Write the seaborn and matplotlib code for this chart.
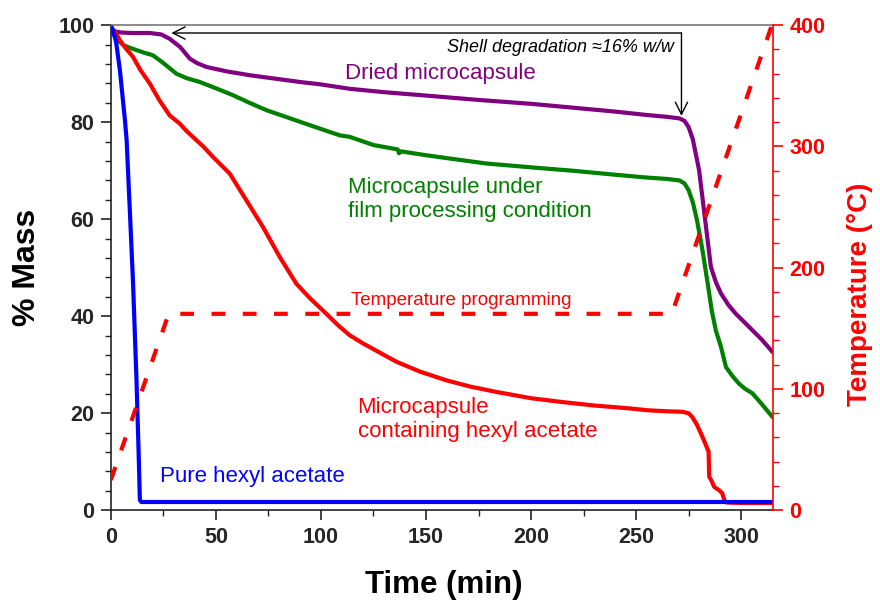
import numpy as np
import pandas as pd
import seaborn as sns
import matplotlib.pyplot as plt
from matplotlib.ticker import MultipleLocator

# ---------------- data ----------------
t_dried = [0, 1, 5, 10, 18.5, 24, 28, 33, 37.6, 41, 45.5, 55, 66, 78, 90, 100, 113.6,
           130, 150, 175, 200, 220, 240, 255, 265, 270.6, 273, 275, 277, 280, 282.5,
           285.6, 288, 290.4, 294, 297.5, 303.8, 310, 315]
m_dried = [99.5, 98.8, 98.5, 98.4, 98.4, 98.1, 97.2, 95.5, 93.1, 92.2, 91.4, 90.5, 89.7,
           89.0, 88.3, 87.8, 86.9, 86.2, 85.5, 84.6, 83.8, 83.0, 82.2, 81.5, 81.1, 80.8,
           80.3, 79.0, 76.5, 70.1, 61.2, 50.2, 47.0, 44.7, 42.3, 40.5, 37.8, 35.1, 32.6]

t_film = [0, 2, 5.9, 10, 15.4, 20, 25, 31.2, 36, 42.3, 50, 58, 66, 74, 82, 90, 99.4,
          109, 113.6, 125, 136.5, 137.2, 138, 150, 165, 178.6, 200, 220, 242, 255, 265,
          270.6, 273, 275, 277, 279, 281.6, 284, 286, 288, 290.4, 292.8, 296, 299, 302,
          305.4, 310, 315]
m_film = [99.5, 97.5, 95.9, 95.2, 94.4, 93.8, 92.2, 90.0, 89.1, 88.3, 87.0, 85.6, 84.0,
          82.5, 81.3, 80.1, 78.7, 77.3, 77.0, 75.3, 74.4, 73.6, 74.0, 73.2, 72.3, 71.5,
          70.7, 70.0, 69.1, 68.6, 68.3, 68.0, 67.4, 66.0, 63.5, 59.8, 53.6, 47.0, 41.2,
          37.0, 33.7, 29.5, 27.6, 26.1, 25.0, 24.1, 21.8, 19.2]

t_caps = [0, 2, 4.3, 7, 10.5, 14, 18.5, 23, 28, 32.8, 36, 40.7, 44, 48.7, 56.6, 64.5,
          72.4, 80.4, 88.3, 95, 102.6, 108, 113.6, 120, 128, 136, 147, 159.6, 171,
          183.4, 200, 215, 230, 246.8, 256, 265, 272, 275, 276.8, 279, 280.9, 282.5,
          284, 284.5, 284.8, 286, 287.2, 289.6, 291, 292, 293, 300, 315]
m_caps = [99.5, 98.6, 96.9, 95.3, 93.5, 90.8, 88.0, 84.6, 81.4, 79.7, 78.2, 76.3, 75.0,
          72.8, 69.4, 63.9, 58.4, 52.2, 46.7, 43.6, 40.5, 38.2, 36.1, 34.4, 32.5, 30.6,
          28.6, 26.8, 25.5, 24.4, 23.1, 22.3, 21.6, 21.0, 20.6, 20.4, 20.3, 20.0, 19.2,
          17.6, 15.8, 14.2, 12.6, 12.2, 6.9, 6.0, 4.8, 4.1, 3.5, 2.1, 1.6, 1.5, 1.5]

t_pure = [0, 1, 2.5, 4.3, 6.7, 7.5, 9, 10.5, 12.2, 13.2, 13.8, 14.5, 50, 100, 200, 315]
m_pure = [100, 99.0, 96.5, 90.7, 80.4, 76.3, 62.0, 47.4, 26.8, 12.0, 2.1, 1.7, 1.7, 1.7,
          1.7, 1.7]

t_temp = [0, 27.5, 267, 315]
temp_c = [25, 162, 162, 402]

x_ticks = [0, 50, 100, 150, 200, 250, 300]
y_ticks = [0, 20, 40, 60, 80, 100]
t_ticks = [0, 100, 200, 300, 400]

# ---------------- style ----------------
sns.set_style("white")
plt.rcParams['font.family'] = ['Liberation Sans', 'DejaVu Sans']

PURPLE = '#800080'
GREEN = '#008000'
RED = '#ff0000'
BLUE = '#0000ff'
DARK = '#222222'

fig, ax = plt.subplots(figsize=(8.8, 6.01), dpi=100)
fig.subplots_adjust(left=0.126, right=0.878, bottom=0.151, top=0.958)

lw = 3.0
for tx, my, col in [(t_dried, m_dried, PURPLE), (t_film, m_film, GREEN),
                    (t_caps, m_caps, RED), (t_pure, m_pure, BLUE)]:
    df = pd.DataFrame({'t': tx, 'm': my})
    sns.lineplot(data=df, x='t', y='m', ax=ax, color=col, lw=lw,
                 estimator=None, sort=False)

ax.set_xlim(0, 315)
ax.set_ylim(0, 100)

ax2 = ax.twinx()
dft = pd.DataFrame({'t': t_temp, 'T': temp_c})
sns.lineplot(data=dft, x='t', y='T', ax=ax2, color=RED, lw=3.0,
             estimator=None, sort=False)
ax2.lines[-1].set_dashes([3.3, 4.2])
ax2.set_ylim(0, 400)
ax2.set_xlim(0, 315)

# ---------------- ticks & spines ----------------
tick_fs = 15.5
ax.set_xticks(x_ticks, [str(v) for v in x_ticks], fontweight='bold', fontsize=tick_fs)
ax.set_yticks(y_ticks, [str(v) for v in y_ticks], fontweight='bold', fontsize=tick_fs)
ax.xaxis.set_minor_locator(MultipleLocator(25))
ax.yaxis.set_minor_locator(MultipleLocator(4))
ax.tick_params(which='major', direction='out', length=7, width=1.2, color=DARK,
               pad=5, bottom=True, left=True, top=False, right=False)
ax.tick_params(which='minor', direction='out', length=4, width=1.0, color=DARK,
               bottom=True, left=True, top=False, right=False)

ax2.set_yticks(t_ticks, [str(v) for v in t_ticks], fontweight='bold',
               fontsize=tick_fs, color=RED)
ax2.yaxis.set_minor_locator(MultipleLocator(20))
ax2.tick_params(which='major', direction='out', length=7, width=1.2, color=RED,
                pad=5, right=True)
ax2.tick_params(which='minor', direction='out', length=4, width=1.0, color=RED,
                right=True)

for s in ['left', 'bottom']:
    ax.spines[s].set_color(DARK)
    ax.spines[s].set_linewidth(1.2)
ax.spines['top'].set_color('#777777')
ax.spines['top'].set_linewidth(1.2)
ax.spines['right'].set_visible(False)
for s in ['left', 'bottom', 'top']:
    ax2.spines[s].set_visible(False)
ax2.spines['right'].set_color(RED)
ax2.spines['right'].set_linewidth(1.2)

# ---------------- axis labels ----------------
ax.set_xlabel('Time (min)', fontsize=22.5, fontweight='bold', color='black')
ax.set_ylabel('% Mass', fontsize=23, fontweight='bold', color='black')
ax2.set_ylabel('Temperature (°C)', fontsize=20, fontweight='bold', color=RED)
ax.xaxis.set_label_coords(0.503, -0.124)
ax.yaxis.set_label_coords(-0.104, 0.5)
ax2.yaxis.set_label_coords(1.113, 0.445)

# ---------------- annotations ----------------
fs = 16
ax.text(111.3, 90.1, 'Dried microcapsule', color=PURPLE, fontsize=fs,
        ha='left', va='center')
ax.text(112.7, 64.1, 'Microcapsule under\nfilm processing condition', color=GREEN,
        fontsize=fs, ha='left', va='center', linespacing=1.15)
ax.text(117.4, 18.7, 'Microcapsule\ncontaining hexyl acetate', color=RED,
        fontsize=fs, ha='left', va='center', linespacing=1.15)
ax.text(114.4, 43.3, 'Temperature programming', color=RED, fontsize=13.5,
        ha='left', va='center')
ax.text(23.3, 6.9, 'Pure hexyl acetate', color=BLUE, fontsize=fs,
        ha='left', va='center')
ax.text(268.2, 95.5, 'Shell degradation ≈16% w/w', color='black', fontsize=13,
        fontstyle='italic', ha='right', va='center')

corner = (271.6, 98.4)
ax.annotate('', xy=(28.8, 98.4), xytext=corner,
            arrowprops=dict(arrowstyle='->', color='black', lw=1.0,
                            shrinkA=0, shrinkB=0, mutation_scale=22))
ax.annotate('', xy=(271.6, 81.3), xytext=corner,
            arrowprops=dict(arrowstyle='->', color='black', lw=1.0,
                            shrinkA=0, shrinkB=0, mutation_scale=22))

fig.savefig('out.png', dpi=100)
